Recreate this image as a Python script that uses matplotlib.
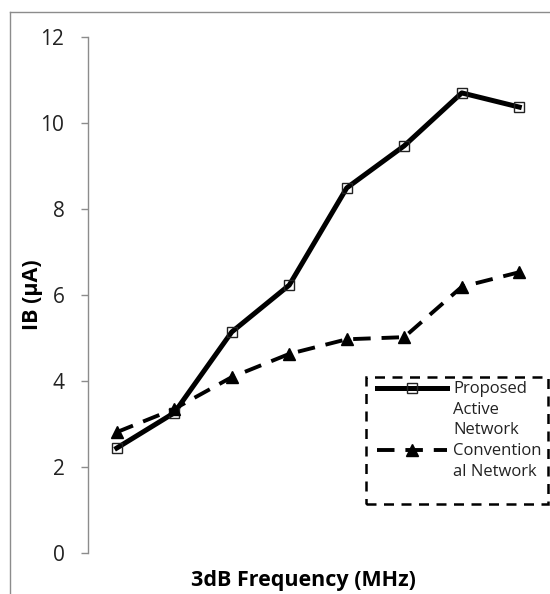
import matplotlib
matplotlib.use("Agg")
import matplotlib.pyplot as plt
from matplotlib.lines import Line2D
from matplotlib.patches import Rectangle

plt.rcParams['font.family'] = ['Open Sans', 'DejaVu Sans']

# Data
categories = list(range(8))
proposed = [2.44, 3.26, 5.14, 6.23, 8.49, 9.47, 10.70, 10.37]
conventional = [2.81, 3.35, 4.09, 4.63, 4.97, 5.02, 6.19, 6.53]
yticks = [0, 2, 4, 6, 8, 10, 12]
label_proposed = "Proposed\nActive\nNetwork"
label_conventional = "Convention\nal Network"

W, H = 550, 594
fig = plt.figure(figsize=(W / 100, H / 100), dpi=100)


def fx(px):
    return px / W


def fy(py):
    return 1 - py / H


# Outer chart frame (left and top edges)
fig.add_artist(Line2D([fx(10), fx(10)], [0, fy(12)], transform=fig.transFigure,
                      color='#8c8c8c', lw=1.0))
fig.add_artist(Line2D([fx(10), 1], [fy(12), fy(12)], transform=fig.transFigure,
                      color='#8c8c8c', lw=1.0))

ax = fig.add_axes([fx(88), fy(553), fx(460), 516 / H])

solid_style = dict(color='black', lw=3.6, marker='s', markersize=7,
                   markerfacecolor='none', markeredgecolor='#222222',
                   markeredgewidth=1.0, solid_joinstyle='round')
dash_style = dict(color='black', lw=2.8, linestyle=(0, (4.5, 2.8)), marker='^',
                  markersize=8.5, markerfacecolor='black', markeredgecolor='black')

ax.plot(categories, proposed, label=label_proposed, **solid_style)
ax.plot(categories, conventional, label=label_conventional, **dash_style)

ax.set_xlim(-0.5, 7.5)
ax.set_ylim(0, 12)
ax.set_yticks(yticks)
ax.set_xticks([])

for side in ('top', 'right', 'bottom'):
    ax.spines[side].set_visible(False)
ax.spines['left'].set_color('#8c8c8c')
ax.spines['left'].set_linewidth(1.0)
ax.tick_params(axis='y', direction='out', length=5, width=1.0, color='#8c8c8c',
               pad=12, labelsize=15, labelcolor='#222222')

ax.set_ylabel("IB (µA)", fontsize=15.5, fontweight='bold')
ax.yaxis.set_label_coords(-0.098, 0.5)
ax.set_xlabel("3dB Frequency (MHz)", fontsize=15.5, fontweight='bold')
ax.xaxis.set_label_coords(0.468, -0.033)

# Legend box with dashed border
fig.add_artist(Rectangle((fx(366), fy(504)), fx(182), 127 / H, transform=fig.transFigure,
                         facecolor='white', edgecolor='black', lw=1.8,
                         linestyle=(0, (4, 3)), zorder=5))

# Legend keys, aligned with the first line of each label
key_x = [fx(377), fx(412), fx(447)]
entries = [(388, label_proposed, solid_style), (450, label_conventional, dash_style)]
for ky, text, style in entries:
    fig.add_artist(Line2D(key_x, [fy(ky)] * 3, transform=fig.transFigure,
                          markevery=[1], zorder=6, **style))
    fig.text(fx(453), fy(ky - 7), text, fontsize=12, color='#222222', ha='left',
             va='top', linespacing=1.38, zorder=6,
             transform=fig.transFigure)

fig.savefig("out.png", dpi=100)
